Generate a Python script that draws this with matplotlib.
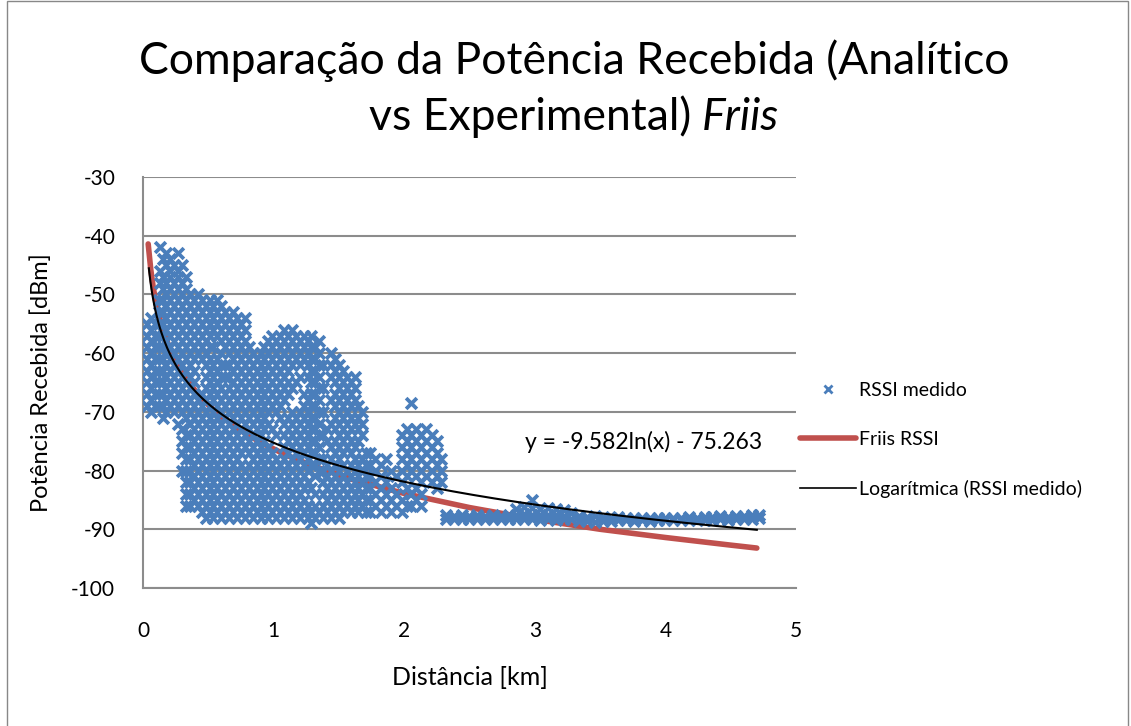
import numpy as np
import matplotlib.pyplot as plt
from matplotlib.lines import Line2D
from matplotlib.patches import Rectangle

plt.rcParams['font.family'] = ['Lato', 'DejaVu Sans']
plt.rcParams['axes.unicode_minus'] = False

BLUE = '#4A7EBB'
RED = '#C0504D'
GRID = '#8C8C8C'

# RSSI medido, agrupado por coluna de distância (km) -> valores em dBm
near_x = [0.03, 0.06, 0.09, 0.12, 0.13, 0.15, 0.18, 0.21, 0.24, 0.27, 0.30, 0.33]
near_y = [
    [-55, -57, -59, -61, -63, -65, -67, -69],
    [-54, -56, -58, -60, -62, -64, -66, -68, -70],
    [-55, -57, -59, -61, -63, -65, -67, -69],
    [-51, -53, -55, -57, -59, -61, -63, -65, -67, -69],
    [-42, -46, -48],
    [-44, -47, -49, -51, -53, -55, -57, -59, -61, -63, -65, -67, -69, -71],
    [-43, -45, -48, -50, -52, -54, -56, -58, -60, -62, -64, -66, -68, -70],
    [-44, -46, -47, -49, -51, -53, -55, -57, -59, -61, -63, -65, -67, -69],
    [-45, -48, -50, -52, -54, -56, -58, -60, -62, -64, -66, -68, -70],
    [-43, -46, -47, -49, -51, -53, -55, -57, -59, -61, -63, -65, -67, -69, -72],
    [-45, -48, -50, -52, -54, -56, -58, -60, -62, -64, -66, -68, -70, -73, -75, -77, -80],
    [-47, -49, -51, -53, -55, -57, -59, -61, -63, -65, -67, -69, -71, -74, -76, -78, -80, -82, -84, -86],
]

mid_x = [0.36, 0.39, 0.42, 0.45, 0.48, 0.51, 0.54, 0.57, 0.60, 0.63, 0.66, 0.69,
         0.72, 0.75, 0.78, 0.81, 0.84, 0.87, 0.90, 0.93, 0.96]
mid_y = [
    [-50, -52, -54, -56, -58, -60, -62, -64, -66, -68, -70, -72, -74, -76, -78, -80, -82, -84, -86],
    [-51, -53, -55, -57, -59, -61, -63, -65, -67, -69, -71, -73, -75, -77, -79, -81, -83, -85],
    [-50, -52, -54, -56, -58, -60, -68, -70, -72, -74, -76, -78, -80, -82, -84, -86],
    [-51, -53, -55, -57, -59, -61, -67, -69, -71, -73, -75, -77, -79, -81, -83, -85, -87],
    [-52, -54, -56, -58, -60, -62, -64, -66, -68, -70, -72, -74, -76, -78, -80, -82, -84, -86, -88],
    [-51, -53, -55, -57, -59, -61, -63, -65, -67, -69, -71, -73, -75, -77, -79, -81, -83, -85, -87],
    [-52, -54, -56, -59, -62, -64, -66, -68, -70, -72, -74, -76, -78, -80, -82, -84, -86, -88],
    [-51, -53, -55, -57, -61, -63, -65, -67, -69, -71, -73, -75, -77, -79, -81, -83, -85, -87],
    [-52, -54, -56, -58, -60, -62, -64, -66, -68, -70, -72, -74, -76, -78, -80, -82, -84, -86, -88],
    [-53, -55, -57, -59, -62, -64, -67, -69, -71, -73, -75, -77, -79, -81, -83, -85, -87],
    [-54, -56, -58, -60, -62, -64, -66, -68, -70, -72, -74, -76, -78, -80, -82, -84, -86, -88],
    [-53, -55, -57, -59, -61, -63, -65, -67, -69, -71, -73, -75, -77, -79, -81, -83, -85, -87],
    [-54, -56, -58, -60, -62, -64, -66, -68, -70, -72, -74, -76, -78, -80, -82, -84, -86, -88],
    [-55, -57, -59, -61, -63, -65, -67, -69, -71, -73, -75, -77, -79, -81, -83, -85, -87],
    [-54, -56, -58, -60, -62, -64, -66, -68, -70, -72, -74, -76, -80, -82, -84, -86, -88],
    [-59, -61, -63, -65, -67, -69, -71, -73, -75, -77, -79, -81, -83, -85, -87],
    [-60, -62, -64, -66, -68, -70, -72, -74, -76, -78, -80, -82, -84, -86, -88],
    [-61, -63, -65, -67, -69, -71, -73, -75, -77, -79, -81, -83, -85, -87],
    [-60, -62, -64, -66, -68, -70, -72, -74, -76, -78, -80, -82, -84, -86, -88],
    [-59, -61, -63, -65, -67, -69, -71, -73, -75, -77, -79, -81, -83, -85, -87],
    [-58, -60, -62, -64, -66, -68, -70, -72, -76, -78, -80, -82, -84, -86, -88],
]

far_x = [0.99, 1.02, 1.05, 1.08, 1.11, 1.14, 1.17, 1.20, 1.23, 1.26, 1.29, 1.32, 1.35,
         1.38, 1.41, 1.44, 1.47, 1.50, 1.53, 1.56, 1.59, 1.62, 1.65, 1.68, 1.71]
far_y = [
    [-57, -59, -61, -63, -65, -67, -69, -73, -77, -79, -81, -83, -85, -87],
    [-58, -60, -62, -64, -66, -68, -70, -74, -78, -80, -82, -84, -86, -88],
    [-57, -59, -61, -63, -65, -67, -69, -71, -79, -81, -83, -85, -87],
    [-56, -58, -60, -62, -64, -66, -68, -72, -74, -76, -78, -80, -82, -84, -86, -88],
    [-57, -59, -61, -63, -65, -67, -71, -73, -75, -77, -79, -81, -83, -85, -87],
    [-56, -58, -60, -62, -66, -70, -72, -74, -76, -78, -80, -82, -84, -86, -88],
    [-57, -59, -61, -65, -71, -73, -75, -77, -79, -81, -83, -85, -87],
    [-58, -60, -62, -64, -70, -72, -74, -76, -78, -80, -82, -84, -86, -88],
    [-57, -59, -61, -67, -69, -71, -73, -75, -77, -79, -81, -83, -85, -87],
    [-58, -60, -62, -64, -68, -70, -72, -74, -76, -78, -80, -82, -86, -88],
    [-57, -59, -61, -63, -65, -67, -69, -71, -73, -75, -77, -79, -83, -87, -89],
    [-59, -61, -63, -65, -67, -69, -71, -73, -75, -77, -79, -81, -84, -86, -88],
    [-58, -60, -62, -64, -66, -68, -70, -72, -74, -76, -78, -80, -87],
    [-62, -66, -70, -74, -78, -80, -82, -84, -86, -88],
    [-73, -75, -79, -81, -83, -85, -87],
    [-60, -62, -64, -68, -72, -76, -78, -80, -82, -84, -86, -88],
    [-61, -63, -65, -67, -69, -71, -73, -75, -77, -79, -81, -83, -85, -87],
    [-62, -64, -66, -68, -70, -72, -74, -76, -78, -80, -82, -84, -86, -88],
    [-63, -65, -67, -69, -71, -73, -75, -77, -79, -81, -83, -85, -87],
    [-64, -66, -68, -70, -72, -74, -76, -80, -82, -84, -86],
    [-65, -67, -69, -71, -73, -75, -77, -79, -81, -83, -85, -87],
    [-64, -66, -68, -72, -76, -78, -80, -82, -84, -86],
    [-69, -71, -73, -75, -79, -81, -83, -85, -87],
    [-70, -72, -74, -78, -80, -82, -84, -86],
    [-77, -79, -81, -83, -85, -87],
]

tail_x = [1.74, 1.78, 1.82, 1.86, 1.90, 1.94, 1.98, 2.02, 2.05, 2.09, 2.13, 2.17, 2.21, 2.25, 2.28]
tail_y = [
    [-77, -79, -81, -83, -85, -87],
    [-78, -80, -82, -84, -86],
    [-79, -81, -83, -85, -87],
    [-78, -82, -84, -86],
    [-80, -83, -85, -87],
    [-81, -84, -86],
    [-74, -76, -78, -80, -82, -85, -87],
    [-73, -75, -77, -79, -81, -83, -86],
    [-68.5, -74, -76, -78, -80, -84, -86],
    [-73, -75, -77, -79, -81, -83, -85],
    [-74, -76, -78, -80, -82, -84, -86],
    [-73, -75, -77, -79, -81],
    [-74, -76, -78, -80, -82],
    [-75, -77, -79, -81, -83],
    [-78, -80, -82],
]

band_x = [2.32, 2.38, 2.44, 2.50, 2.56, 2.62, 2.68, 2.74, 2.80, 2.86, 2.92, 2.98, 3.04,
          3.10, 3.16, 3.22, 3.28, 3.34, 3.40, 3.46, 3.52, 3.58, 3.64, 3.70, 3.76, 3.82,
          3.88, 3.94, 4.00, 4.06, 4.12, 4.18, 4.24, 4.30, 4.36, 4.42, 4.48, 4.54, 4.60,
          4.66, 4.72]
band_y = [
    [-87.6, -88.2], [-87.7, -88.2], [-87.6, -88.3], [-87.7, -88.2], [-87.6, -88.2],
    [-87.7, -88.3], [-87.6, -88.2], [-87.7, -88.2], [-87.6, -88.3], [-86.5, -87.5, -88.3],
    [-86.2, -87.4, -88.3], [-85.0, -86.4, -87.5, -88.2], [-86.5, -87.6, -88.4], [-86.3, -87.5, -88.2],
    [-86.6, -87.6, -88.4], [-86.8, -87.7, -88.3], [-87.2, -88.2], [-87.8, -88.6], [-87.9, -88.6],
    [-87.8, -88.7], [-87.9, -88.6], [-88.0, -88.6], [-87.9, -88.5], [-88.0, -88.5], [-88.0, -88.6],
    [-88.0, -88.5], [-88.1, -88.6], [-88.0, -88.5], [-88.0, -88.5], [-88.0, -88.4], [-88.0, -88.5],
    [-87.9, -88.4], [-88.0, -88.4], [-87.9, -88.4], [-87.9, -88.4], [-87.8, -88.3], [-87.9, -88.4],
    [-87.8, -88.3], [-87.7, -88.3], [-87.6, -88.2], [-87.5, -88.1],
]

# modelo de Friis (dBm) ao longo da distância (km)
friis_x = [0.04, 0.06, 0.08, 0.10, 0.13, 0.16, 0.20, 0.25, 0.30, 0.40, 0.50, 0.60,
           0.75, 0.90, 1.10, 1.30, 1.60, 2.00, 2.50, 3.00, 3.50, 4.00, 4.50, 4.70]
friis_y = [-41.4, -45.8, -49.0, -51.4, -54.2, -56.5, -58.9, -61.3, -63.3, -66.4, -68.8, -70.8,
           -73.2, -75.2, -77.4, -79.2, -81.5, -83.9, -86.3, -88.3, -90.0, -91.4, -92.7, -93.2]

# linha de tendência logarítmica do RSSI medido
trend_a = -9.582
trend_b = -75.263


def flatten(cols, ys):
    xs, yy = [], []
    for x, col in zip(cols, ys):
        xs += [x] * len(col)
        yy += col
    return xs, yy


rssi_x, rssi_y = [], []
for cols, ys in [(near_x, near_y), (mid_x, mid_y), (far_x, far_y), (tail_x, tail_y), (band_x, band_y)]:
    cx, cy = flatten(cols, ys)
    rssi_x += cx
    rssi_y += cy

fig = plt.figure(figsize=(11.31, 7.26), dpi=100)
ax = fig.add_axes([0.1264, 0.1901, 0.5774, 0.5661])

ax.plot(friis_x, friis_y, color=RED, lw=4, solid_capstyle='round', zorder=2)
ax.scatter(rssi_x, rssi_y, marker='x', s=60, linewidths=2.7, color=BLUE, zorder=3)

tx = np.linspace(min(rssi_x) + 0.015, max(rssi_x) - 0.02, 400)
ax.plot(tx, trend_a * np.log(tx) + trend_b, color='black', lw=1.5, zorder=4)

ax.text(3.83, -75.1, 'y = -9.582ln(x) - 75.263', fontsize=16.5, ha='center', va='center', zorder=5)

ax.set_xlim(0, 5)
ax.set_ylim(-100, -30)
ax.set_xticks(range(0, 6))
ax.set_yticks(range(-100, -29, 10))
ax.tick_params(length=0, labelsize=15)
ax.tick_params(axis='y', pad=20)
ax.tick_params(axis='x', pad=24)
ax.grid(axis='y', color=GRID, lw=1.5)
ax.set_axisbelow(True)
for s in ['top', 'right']:
    ax.spines[s].set_visible(False)
for s in ['left', 'bottom']:
    ax.spines[s].set_color(GRID)
    ax.spines[s].set_linewidth(1.5)

ax.set_xlabel('Distância [km]', fontsize=18, labelpad=18)
ax.set_ylabel('Potência Recebida [dBm]', fontsize=17, labelpad=14)

# título em duas linhas, com "Friis" em itálico
fig.text(574 / 1131, 1 - 74 / 726, 'Comparação da Potência Recebida (Analítico',
         fontsize=32, ha='center', va='baseline')
r = fig.canvas.get_renderer()
t1 = fig.text(0, 1 - 130 / 726, 'vs Experimental) ', fontsize=32, va='baseline')
t2 = fig.text(0, 1 - 130 / 726, 'Friis', fontsize=32, va='baseline', style='italic')
w1 = t1.get_window_extent(r).width / fig.bbox.width
w2 = t2.get_window_extent(r).width / fig.bbox.width
x0 = 574 / 1131 - (w1 + w2) / 2
t1.set_x(x0)
t2.set_x(x0 + w1)

handles = [
    Line2D([], [], ls='none', marker='x', ms=6, mew=2, color=BLUE),
    Line2D([], [], color=RED, lw=4, solid_capstyle='round'),
    Line2D([], [], color='black', lw=1.2),
]
labels = ['RSSI medido', 'Friis RSSI', 'Logarítmica (RSSI medido)']
fig.legend(handles, labels, loc='center left', bbox_to_anchor=(800 / 1131, 1 - 440 / 726),
           frameon=False, fontsize=14, handlelength=2.9, handletextpad=0.15,
           labelspacing=1.65, borderpad=0, borderaxespad=0)

fig.add_artist(Rectangle((7 / 1131, -0.01), 1121 / 1131, 1.0086, transform=fig.transFigure,
                         fill=False, edgecolor='#888888', lw=1))

fig.savefig('out.png', dpi=100)
